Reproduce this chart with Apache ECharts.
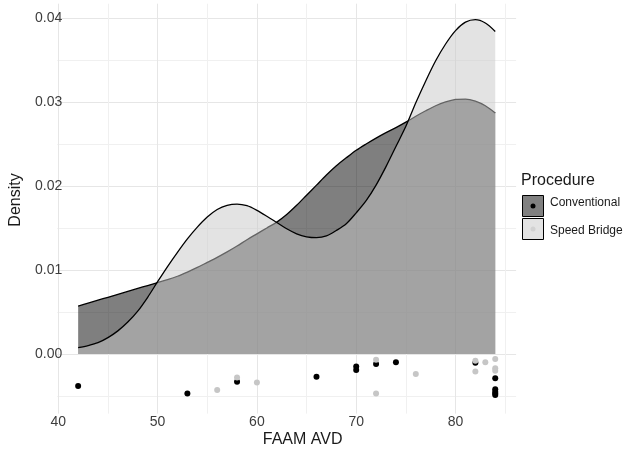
<!DOCTYPE html>
<html>
<head>
<meta charset="utf-8">
<script src="https://cdn.jsdelivr.net/npm/echarts@6/dist/echarts.min.js"></script>
<style>
html,body{margin:0;padding:0;background:#fff;}
#chart{width:627px;height:455px;}
</style>
</head>
<body>
<div id="chart"></div>
<script>
// ---- data ----
const densityX = [42,43,44,45,46,47,48,49,50,51,52,53,54,55,56,57,58,59,60,61,62,63,64,65,66,67,68,69,70,71,72,73,74,75,76,77,78,79,80,81,82,83,84];
const conventionalDensity = [0.0057,0.00605,0.0064,0.00675,0.0071,0.00745,0.0078,0.00815,0.0085,0.00885,0.00925,0.00975,0.0103,0.0109,0.0115,0.01215,0.01285,0.0136,0.0143,0.015,0.0157,0.0166,0.0177,0.0189,0.0201,0.0213,0.0224,0.02335,0.02425,0.025,0.0257,0.02635,0.02695,0.0276,0.0283,0.02895,0.02955,0.03,0.0303,0.03035,0.0301,0.02955,0.0287];
const speedBridgeDensity = [0.00075,0.001,0.00135,0.00195,0.00275,0.0038,0.0051,0.00675,0.0086,0.0104,0.0121,0.0137,0.0151,0.0163,0.0172,0.0177,0.01785,0.01765,0.0171,0.0164,0.01565,0.0149,0.0143,0.01395,0.01385,0.01405,0.0147,0.0155,0.0168,0.01825,0.0201,0.0223,0.0247,0.0271,0.0299,0.0325,0.0349,0.0369,0.0385,0.0395,0.0398,0.0394,0.0384];

const conventionalPtsX = [42,53,58,66,70,70,72,74,82,84,84,84,84,84];
const conventionalPtsY = [-0.0038,-0.0047,-0.0033,-0.0027,-0.0015,-0.0019,-0.0012,-0.001,-0.00105,-0.0029,-0.0042,-0.0045,-0.0047,-0.0049];
const speedPtsX = [56,58,60,72,72,76,82,82,83,84,84,84];
const speedPtsY = [-0.0043,-0.0028,-0.0034,-0.0007,-0.0047,-0.0024,-0.0008,-0.0021,-0.001,-0.0006,-0.0017,-0.002];

const xMajorTicks = [40,50,60,70,80];
const xMinorTicks = [45,55,65,75,85];
const yMajorTicks = [0,0.01,0.02,0.03,0.04];
const yMinorTicks = [-0.005,0.005,0.015,0.025,0.035];

const legendTitle = 'Procedure';
const groupNames = ['Conventional','Speed Bridge'];
const xTitle = 'FAAM AVD';
const yTitle = 'Density';

// ---- build ----
const zip = (a,b) => a.map((v,i) => [v,b[i]]);
const FONT = '"Liberation Sans", Arial, sans-serif';
const X_MIN = 39.9, X_MAX = 86.1, Y_MIN = -0.0071, Y_MAX = 0.0417;

const chart = echarts.init(document.getElementById('chart'), null, {renderer:'canvas'});
chart.setOption({
  animation: false,
  backgroundColor: '#ffffff',
  grid: {left: 57.3, right: 110.9, top: 3.7, bottom: 41.4, containLabel: false},
  xAxis: [{
    type: 'value', min: X_MIN, max: X_MAX,
    axisLine: {show: false},
    axisTick: {show: false, customValues: xMajorTicks},
    axisLabel: {customValues: xMajorTicks, color: '#3d3d3d', fontSize: 14, fontFamily: FONT, margin: 2},
    splitLine: {show: true, lineStyle: {color: '#e6e6e6', width: 1}}
  },{
    type: 'value', min: X_MIN, max: X_MAX, position: 'top',
    axisLine: {show: false},
    axisTick: {show: false, customValues: xMinorTicks},
    axisLabel: {show: false, customValues: xMinorTicks},
    splitLine: {show: true, lineStyle: {color: '#f0f0f0', width: 1}}
  }],
  yAxis: [{
    type: 'value', min: Y_MIN, max: Y_MAX,
    axisLine: {show: false},
    axisTick: {show: false, customValues: yMajorTicks},
    axisLabel: {customValues: yMajorTicks, color: '#3d3d3d', fontSize: 14, fontFamily: FONT, margin: -5,
      formatter: v => v.toFixed(2)},
    splitLine: {show: true, lineStyle: {color: '#e6e6e6', width: 1}}
  },{
    type: 'value', min: Y_MIN, max: Y_MAX, position: 'right',
    axisLine: {show: false},
    axisTick: {show: false, customValues: yMinorTicks},
    axisLabel: {show: false, customValues: yMinorTicks},
    splitLine: {show: true, lineStyle: {color: '#f0f0f0', width: 1}}
  }],
  series: [{
    name: groupNames[0], type: 'line', z: 2,
    data: zip(densityX, conventionalDensity),
    smooth: 0.3, symbol: 'none',
    lineStyle: {color: '#000', width: 1.3},
    areaStyle: {color: 'rgba(0,0,0,0.5)', opacity: 1}
  },{
    name: groupNames[1], type: 'line', z: 3,
    data: zip(densityX, speedBridgeDensity),
    smooth: 0.3, symbol: 'none',
    lineStyle: {color: '#000', width: 1.3},
    areaStyle: {color: 'rgba(199,199,199,0.5)', opacity: 1}
  },{
    name: groupNames[0] + ' pts', type: 'scatter', z: 4,
    data: zip(conventionalPtsX, conventionalPtsY),
    symbolSize: 6, itemStyle: {color: '#000', opacity: 1}
  },{
    name: groupNames[1] + ' pts', type: 'scatter', z: 5,
    data: zip(speedPtsX, speedPtsY),
    symbolSize: 6, itemStyle: {color: '#c6c6c6', opacity: 1}
  }],
  graphic: [
    {type: 'text', left: 303.8 - 41, top: 432, style: {text: xTitle, font: '16px ' + FONT, fill: '#1a1a1a'}},
    {type: 'text', x: 16, y: 200, rotation: Math.PI/2,
      style: {text: yTitle, font: '16px ' + FONT, fill: '#1a1a1a', align: 'center', verticalAlign: 'middle'}},
    {type: 'text', x: 521, y: 181, style: {text: legendTitle, font: '16px ' + FONT, fill: '#1a1a1a', verticalAlign: 'middle'}},
    {type: 'rect', shape: {x: 522.5, y: 195.5, width: 21, height: 21}, style: {fill: '#808080', stroke: '#000', lineWidth: 1}},
    {type: 'circle', shape: {cx: 533, cy: 206, r: 2.5}, style: {fill: '#000'}},
    {type: 'rect', shape: {x: 522.5, y: 218.5, width: 21, height: 21}, style: {fill: '#e3e3e3', stroke: '#000', lineWidth: 1}},
    {type: 'circle', shape: {cx: 533, cy: 229, r: 2.5}, style: {fill: '#d2d2d2'}},
    {type: 'text', x: 550, y: 203, style: {text: groupNames[0], font: '12px ' + FONT, fill: '#1a1a1a', verticalAlign: 'middle'}},
    {type: 'text', x: 550, y: 231, style: {text: groupNames[1], font: '12px ' + FONT, fill: '#1a1a1a', verticalAlign: 'middle'}}
  ]
});
</script>
</body>
</html>
